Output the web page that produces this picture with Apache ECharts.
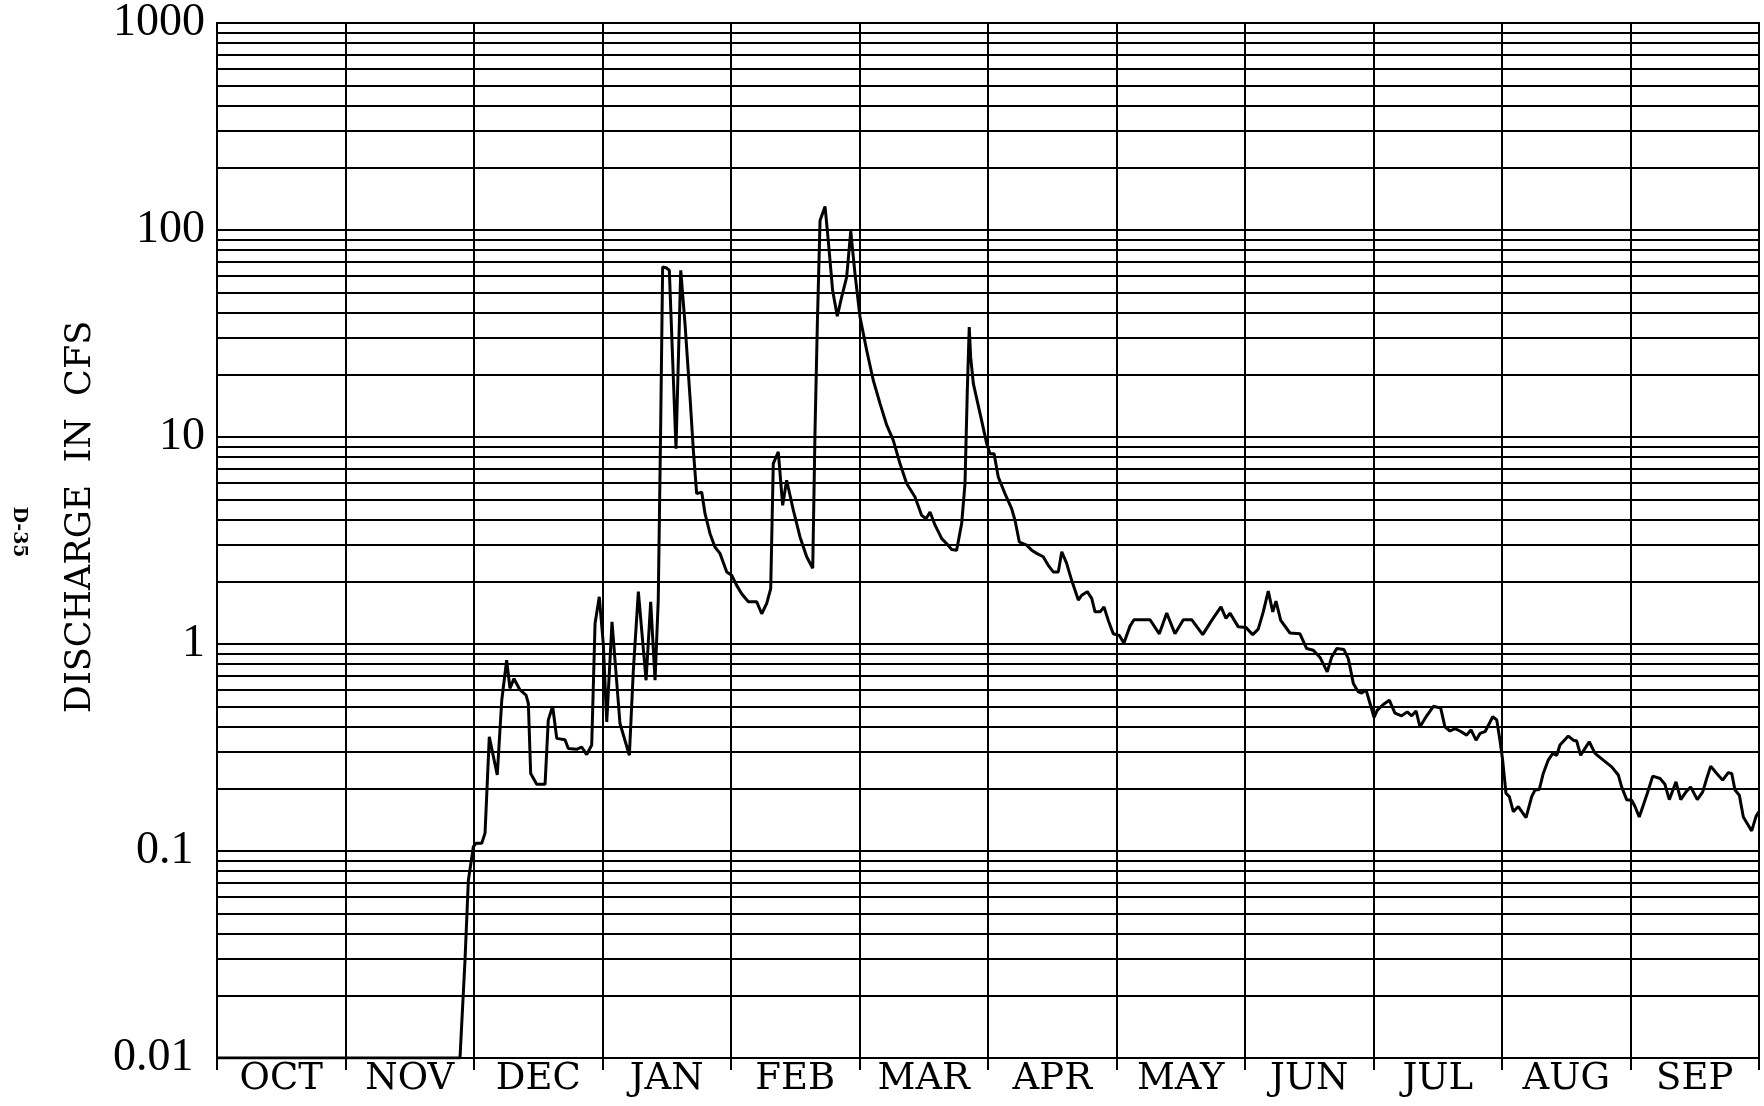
<!DOCTYPE html>
<html>
<head>
<meta charset="utf-8">
<title>Discharge in CFS</title>
<script src="https://cdn.jsdelivr.net/npm/echarts@6/dist/echarts.min.js"></script>
<style>
  html, body { margin: 0; padding: 0; background: #ffffff; }
  #chart { width: 1764px; height: 1106px; }
</style>
</head>
<body>
<div id="chart"></div>
<script>
// ---- data (x in months from Oct 1; 0 = start of OCT, 12 = end of SEP) ----
var months = ['OCT', 'NOV', 'DEC', 'JAN', 'FEB', 'MAR', 'APR', 'MAY', 'JUN', 'JUL', 'AUG', 'SEP'];

var xMonth = [
  0, 1.891, 1.930, 1.956, 1.995, 2.016, 2.060, 2.086, 2.119, 2.181,
  2.216, 2.254, 2.280, 2.311, 2.358, 2.405, 2.423, 2.441, 2.488, 2.553,
  2.578, 2.612, 2.644, 2.708, 2.734, 2.799, 2.838, 2.877, 2.916, 2.942,
  2.975, 3.006, 3.033, 3.074, 3.136, 3.209, 3.240, 3.279, 3.339, 3.375,
  3.409, 3.434, 3.453, 3.468, 3.500, 3.520, 3.551, 3.572, 3.609, 3.642,
  3.681, 3.707, 3.733, 3.772, 3.798, 3.837, 3.875, 3.914, 3.967, 4.005,
  4.044, 4.083, 4.135, 4.200, 4.239, 4.278, 4.309, 4.329, 4.368, 4.402,
  4.433, 4.485, 4.537, 4.589, 4.636, 4.654, 4.672, 4.693, 4.732, 4.757,
  4.791, 4.827, 4.861, 4.900, 4.932, 4.965, 5.004, 5.056, 5.107, 5.160,
  5.212, 5.263, 5.315, 5.367, 5.432, 5.484, 5.518, 5.549, 5.588, 5.640,
  5.679, 5.717, 5.756, 5.795, 5.821, 5.839, 5.854, 5.865, 5.886, 5.938,
  5.990, 6.016, 6.047, 6.080, 6.132, 6.184, 6.210, 6.244, 6.301, 6.340,
  6.379, 6.430, 6.469, 6.508, 6.547, 6.574, 6.612, 6.651, 6.703, 6.729,
  6.773, 6.807, 6.833, 6.872, 6.903, 6.936, 6.975, 7.022, 7.058, 7.105,
  7.136, 7.261, 7.333, 7.391, 7.455, 7.520, 7.585, 7.671, 7.741, 7.813,
  7.852, 7.883, 7.948, 8.008, 8.060, 8.103, 8.142, 8.181, 8.216, 8.241,
  8.278, 8.350, 8.428, 8.480, 8.532, 8.584, 8.640, 8.675, 8.714, 8.770,
  8.804, 8.843, 8.882, 8.908, 8.942, 8.973, 9.004, 9.030, 9.076, 9.123,
  9.167, 9.219, 9.263, 9.297, 9.331, 9.362, 9.414, 9.466, 9.523, 9.556,
  9.595, 9.634, 9.673, 9.725, 9.759, 9.798, 9.829, 9.868, 9.901, 9.928,
  9.959, 9.984, 10.005, 10.031, 10.057, 10.088, 10.127, 10.187, 10.231, 10.257,
  10.290, 10.321, 10.360, 10.395, 10.426, 10.451, 10.516, 10.555, 10.581, 10.612,
  10.646, 10.679, 10.724, 10.788, 10.854, 10.905, 10.931, 10.970, 11.009, 11.035,
  11.068, 11.100, 11.131, 11.173, 11.230, 11.268, 11.302, 11.354, 11.391, 11.432,
  11.468, 11.520, 11.562, 11.593, 11.624, 11.671, 11.717, 11.761, 11.788, 11.813,
  11.847, 11.878, 11.943, 11.977, 12.0
];

var discharge = [
  0.01, 0.01, 0.0297, 0.072, 0.105, 0.109, 0.109, 0.122, 0.356, 0.233,
  0.535, 0.836, 0.61, 0.68, 0.60, 0.566, 0.516, 0.237, 0.21, 0.21,
  0.429, 0.50, 0.35, 0.345, 0.313, 0.31, 0.318, 0.292, 0.325, 1.256,
  1.69, 1.005, 0.42, 1.28, 0.413, 0.29, 0.747, 1.79, 0.668, 1.6,
  0.668, 1.64, 11.6, 66.2, 65.5, 63.8, 19.5, 8.79, 63.8, 35.3,
  15.6, 8.62, 5.33, 5.42, 4.26, 3.41, 2.94, 2.74, 2.23, 2.15,
  1.92, 1.75, 1.60, 1.60, 1.40, 1.57, 1.85, 7.44, 8.47, 4.68,
  6.18, 4.43, 3.29, 2.64, 2.32, 10.8, 35.3, 111, 130, 88.9,
  51, 38.3, 47.4, 59.2, 98.8, 61.4, 38, 26.2, 18.8, 14.5,
  11.4, 9.64, 7.44, 5.96, 5.13, 4.18, 4.03, 4.34, 3.75, 3.23,
  3.05, 2.86, 2.84, 3.82, 5.96, 16.8, 34, 24.3, 18.1, 13,
  9.29, 8.31, 8.31, 6.41, 5.33, 4.51, 3.96, 3.11, 3.0, 2.84,
  2.74, 2.64, 2.40, 2.23, 2.23, 2.79, 2.45, 2.03, 1.63, 1.72,
  1.79, 1.66, 1.43, 1.43, 1.51, 1.30, 1.12, 1.10, 1.01, 1.22,
  1.31, 1.31, 1.12, 1.41, 1.12, 1.31, 1.31, 1.11, 1.30, 1.51,
  1.33, 1.41, 1.21, 1.20, 1.11, 1.18, 1.43, 1.80, 1.43, 1.61,
  1.30, 1.13, 1.12, 0.951, 0.933, 0.861, 0.733, 0.866, 0.951, 0.94,
  0.85, 0.645, 0.587, 0.58, 0.60, 0.516, 0.442, 0.479, 0.51, 0.535,
  0.464, 0.45, 0.47, 0.45, 0.475, 0.398, 0.45, 0.50, 0.49, 0.398,
  0.38, 0.39, 0.38, 0.363, 0.385, 0.343, 0.37, 0.377, 0.413, 0.445,
  0.43, 0.343, 0.275, 0.19, 0.183, 0.155, 0.164, 0.145, 0.183, 0.197,
  0.198, 0.237, 0.275, 0.296, 0.29, 0.325, 0.359, 0.343, 0.34, 0.29,
  0.313, 0.337, 0.296, 0.275, 0.255, 0.233, 0.204, 0.177, 0.176, 0.164,
  0.146, 0.167, 0.19, 0.23, 0.224, 0.21, 0.177, 0.216, 0.177, 0.193,
  0.204, 0.177, 0.193, 0.224, 0.257, 0.237, 0.22, 0.239, 0.237, 0.197,
  0.186, 0.146, 0.125, 0.147, 0.155
];

var yTickLabels = ['0.01', '0.1', '1', '10', '100', '1000'];
var decadeStarts = [0.01, 0.1, 1, 10, 100];
var minorMultipliers = [2, 3, 4, 5, 6, 7, 8, 9];

// ---- build options from the arrays ----
var seriesData = xMonth.map(function (x, i) { return [x, discharge[i]]; });
var minorLines = [];
decadeStarts.forEach(function (d) {
  minorMultipliers.forEach(function (m) { minorLines.push({ yAxis: m * d }); });
});

var FONT = 'DejaVu Serif';
var NUM_FONT = 'Liberation Serif';
var GRID_COLOR = '#000000';
var GRID_W = 2;

var chart = echarts.init(document.getElementById('chart'), null, { renderer: 'canvas' });
chart.setOption({
  animation: false,
  backgroundColor: '#ffffff',
  grid: {
    left: 217, right: 5, top: 22, bottom: 48,
    show: true, borderColor: GRID_COLOR, borderWidth: GRID_W,
    containLabel: false
  },
  xAxis: [
    {
      type: 'category',
      data: months,
      boundaryGap: true,
      axisLine: { show: true, lineStyle: { color: GRID_COLOR, width: GRID_W } },
      axisTick: { show: true, interval: 0, length: 12, inside: false,
                  lineStyle: { color: GRID_COLOR, width: GRID_W } },
      splitLine: { show: true, interval: 0, lineStyle: { color: GRID_COLOR, width: GRID_W } },
      axisLabel: { interval: 0, margin: 3, fontFamily: FONT, fontSize: 37, color: '#000' }
    },
    {
      type: 'value',
      min: 0, max: 12,
      show: false
    }
  ],
  yAxis: {
    type: 'log',
    logBase: 10,
    min: 0.01,
    max: 1000,
    axisLine: { show: true, lineStyle: { color: GRID_COLOR, width: GRID_W } },
    axisTick: { show: false },
    splitLine: { show: true, lineStyle: { color: GRID_COLOR, width: GRID_W } },
    axisLabel: {
      margin: 12,
      fontFamily: NUM_FONT,
      fontSize: 46,
      color: '#000',
      padding: [8, 0, 0, 0],
      formatter: function (v) {
        var idx = Math.round(Math.log10(v)) + 2;
        var s = yTickLabels[idx];
        return v < 1 ? s + ' ' : s;
      }
    }
  },
  graphic: [
    {
      type: 'text',
      x: 81, y: 517,
      rotation: Math.PI / 2,
      style: {
        text: 'DISCHARGE  IN  CFS',
        font: '35px "DejaVu Serif"',
        fill: '#000',
        align: 'center',
        verticalAlign: 'middle'
      }
    },
    {
      type: 'text',
      x: 19, y: 532,
      rotation: -Math.PI / 2,
      style: {
        text: 'D-35',
        font: 'bold 19px "DejaVu Serif"',
        fill: '#000',
        align: 'center',
        verticalAlign: 'middle'
      }
    }
  ],
  series: [
    {
      type: 'line',
      xAxisIndex: 1,
      yAxisIndex: 0,
      data: seriesData,
      showSymbol: false,
      symbol: 'none',
      smooth: false,
      lineStyle: { color: '#000', width: 3 },
      z: 5,
      markLine: {
        silent: true,
        symbol: ['none', 'none'],
        label: { show: false },
        lineStyle: { type: 'solid', color: GRID_COLOR, width: GRID_W },
        emphasis: { disabled: true },
        animation: false,
        data: minorLines
      }
    }
  ]
});
</script>
</body>
</html>
